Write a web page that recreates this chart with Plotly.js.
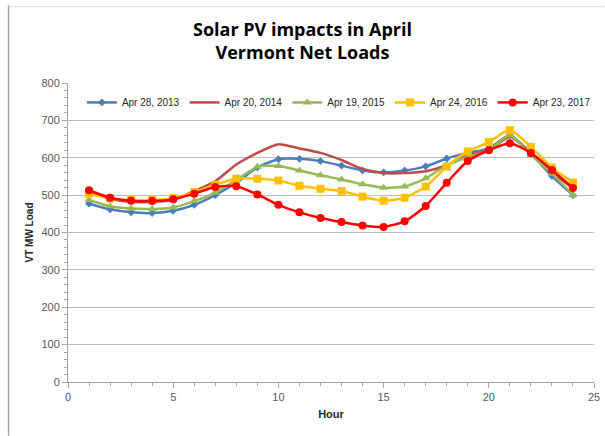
<!DOCTYPE html>
<html>
<head>
<meta charset="utf-8">
<script src="https://cdn.plot.ly/plotly-3.0.1.min.js"></script>
<style>html,body{margin:0;padding:0;background:#fff}#chart{width:605px;height:436px}</style>
</head>
<body>
<div id="chart"></div>
<script>
const hours = [1,2,3,4,5,6,7,8,9,10,11,12,13,14,15,16,17,18,19,20,21,22,23,24];
const names = ["Apr 28, 2013","Apr 20, 2014","Apr 19, 2015","Apr 24, 2016","Apr 23, 2017"];
const load2013 = [477,462,454,452,458,474,500,533,574,596,597,591,579,566,561,566,577,598,613,625,660,611,551,500];
const load2014 = [510,490,482,482,487,511,537,582,613,636,625,613,594,570,559,559,564,580,607,620,656,613,562,518];
const load2015 = [487,470,464,463,467,484,507,540,576,578,566,553,542,529,520,523,545,580,602,620,660,607,558,500];
const load2016 = [504,491,487,487,492,508,528,544,544,539,525,517,511,496,485,493,523,576,617,642,674,629,574,534];
const load2017 = [513,493,485,484,489,504,522,524,502,474,454,439,428,419,415,430,471,533,591,620,639,613,567,519];

const fnt = "Liberation Sans, Arial, sans-serif";
const traces = [
  {y: load2013, color:"#4A7EBB", symbol:"diamond", size:6},
  {y: load2014, color:"#BE4B48", symbol:"line-ew", size:0},
  {y: load2015, color:"#98B954", symbol:"triangle-up", size:8},
  {y: load2016, color:"#FFC000", symbol:"square", size:8},
  {y: load2017, color:"#FF0000", symbol:"circle", size:8}
].map((s,i)=>({
  x: hours, y: s.y, name: names[i], type:"scatter", mode: s.size? "lines+markers":"lines",
  line:{color:s.color, width:2.5, shape:"spline", smoothing:0.6},
  marker:{symbol:s.symbol, size:s.size, color:s.color}
}));

const layout = {
  width:605, height:436,
  margin:{l:68, r:9, t:83, b:54},
  paper_bgcolor:"#fff", plot_bgcolor:"#fff",
  font:{family:fnt, color:"#404040", size:11},
  title:{text:"<b>Solar PV impacts in April<br>Vermont Net Loads</b>", x:0.5, xanchor:"center", y:0.918, yanchor:"top",
         font:{family:"Open Sans, sans-serif", size:18, color:"#000"}},
  showlegend:true,
  legend:{orientation:"h", x:0.515, xanchor:"center", y:0.935, yanchor:"middle", bgcolor:"rgba(255,255,255,0)",
          font:{family:fnt, size:10, color:"#262626"}, itemwidth:30, tracegroupgap:0},
  xaxis:{range:[0,25], dtick:5, tick0:0, showgrid:false, zeroline:false, showline:true, linecolor:"#A6A6A6", linewidth:1,
         ticks:"outside", ticklen:5, tickcolor:"#A6A6A6",
         minor:{dtick:1, ticks:"outside", ticklen:3, tickcolor:"#A6A6A6"},
         tickfont:{size:11, color:"#595959"},
         title:{text:"<b>Hour</b>", font:{size:11, color:"#262626"}, standoff:8}},
  yaxis:{range:[0,800], dtick:100, showgrid:true, gridcolor:"#BFBFBF", gridwidth:1, zeroline:false, showline:true, linecolor:"#A6A6A6",
         ticks:"outside", ticklen:5, tickcolor:"#A6A6A6",
         minor:{dtick:20, ticks:"outside", ticklen:3, tickcolor:"#A6A6A6", showgrid:false},
         tickfont:{size:11, color:"#595959"},
         title:{text:"<b>VT MW Load</b>", font:{size:10, color:"#262626"}, standoff:5}},
  shapes:[
    {type:"line", xref:"paper", yref:"paper", x0:-0.113, x1:-0.113, y0:-0.18, y1:1.26, line:{color:"#A6A6A6", width:1.5}},
    {type:"line", xref:"paper", yref:"paper", x0:-0.113, x1:1.02, y0:1.255, y1:1.255, line:{color:"#D9D9D9", width:1}}
  ]
};
Plotly.newPlot("chart", traces, layout, {displayModeBar:false, staticPlot:true});
</script>
</body>
</html>
